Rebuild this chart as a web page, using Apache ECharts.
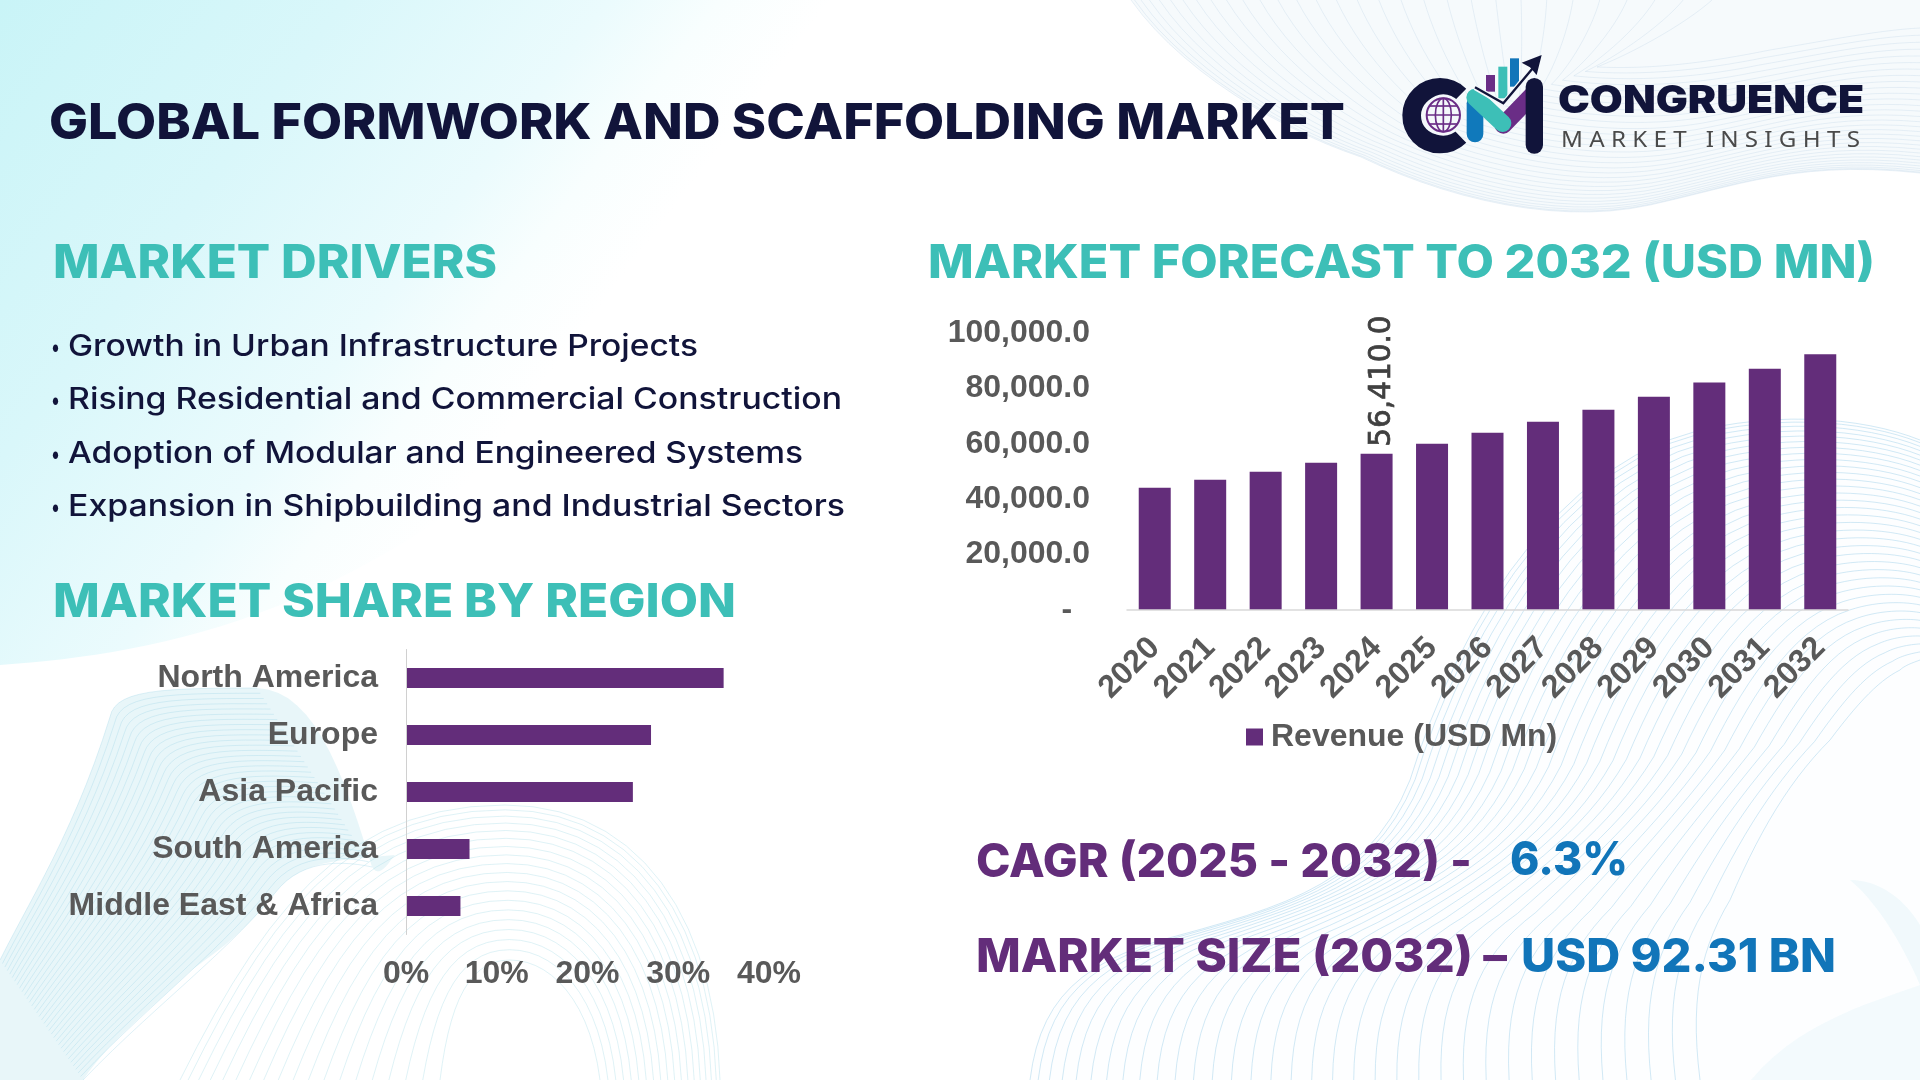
<!DOCTYPE html>
<html><head><meta charset="utf-8">
<script src="https://cdn.jsdelivr.net/npm/echarts@6/dist/echarts.min.js"></script>
<style>html,body{margin:0;padding:0;background:#fff}#c{width:1920px;height:1080px}</style>
</head><body><div id="c"></div>
<script>
const years=['2020','2021','2022','2023','2024','2025','2026','2027','2028','2029','2030','2031','2032'];
const revenue=[44100,47000,49900,53150,56410,60000,64000,68000,72300,77000,82100,87100,92310];
const labelledYear='2024';
const regions=['North America','Europe','Asia Pacific','South America','Middle East & Africa'];
const regionShare=[35,27,25,7,6];
const heading='GLOBAL FORMWORK AND SCAFFOLDING MARKET';
const driversTitle='MARKET DRIVERS';
const forecastTitle='MARKET FORECAST TO 2032 (USD MN)';
const regionTitle='MARKET SHARE BY REGION';
const bulletMark='•';
const drivers=['Growth in Urban Infrastructure Projects','Rising Residential and Commercial Construction','Adoption of Modular and Engineered Systems','Expansion in Shipbuilding and Industrial Sectors'];
const cagrLabel='CAGR (2025 - 2032) -';
const cagrValue='6.3%';
const sizeLabel='MARKET SIZE (2032) –';
const sizeValue='USD 92.31 BN';
const brand='CONGRUENCE';
const brandSub='M A R K E T   I N S I G H T S';

const NAVY='#11143a',TEAL='#3dbfb7',PURPLE='#632d7a',BLUE='#1175b9',GREY='#595959',SANS='"Liberation Sans"';
const mctx=document.createElement('canvas').getContext('2d');
function txt(text,x0,x1,y,size,weight,fill,family){
  family=family||'Inter';
  mctx.font=weight+' '+size+'px '+family;
  const k=(x1-x0)/mctx.measureText(text).width;
  return {type:'text',x:x0,y:y,scaleX:k,z:20,silent:true,style:{text:text,fontSize:size,fontWeight:weight,fontFamily:family,fill:fill,align:'left',verticalAlign:'middle'}};
}
function sampleChain(p,steps){
  const out=[[p[0][0],p[0][1]]];
  for(let j=1;j+2<p.length;j+=3){
    const a=p[j-1],b=p[j],c=p[j+1],d=p[j+2];
    for(let s=1;s<=steps;s++){const t=s/steps,u=1-t;
      out.push([u*u*u*a[0]+3*u*u*t*b[0]+3*u*t*t*c[0]+t*t*t*d[0],u*u*u*a[1]+3*u*u*t*b[1]+3*u*t*t*c[1]+t*t*t*d[1]]);}
  }
  return out;
}
function family(a,b,n,power,stroke,lw){
  const els=[];
  for(let i=0;i<=n;i++){
    const t=Math.pow(i/n,power);
    const p=a.map((q,j)=>[q[0]+(b[j][0]-q[0])*t,q[1]+(b[j][1]-q[1])*t]);
    els.push({type:'polyline',z:1,silent:true,shape:{points:sampleChain(p,14)},style:{fill:'none',stroke:stroke,lineWidth:lw||1}});
  }
  return els;
}
function area(d,fill){
  const toks=d.match(/[MLCZ]|-?[\d.]+/g);let i=0,pts=[],cur=null;
  while(i<toks.length){const c=toks[i++];
    if(c==='M'||c==='L'){cur=[+toks[i],+toks[i+1]];i+=2;pts.push(cur);}
    else if(c==='C'){
      while(i<toks.length&&!/[MLCZ]/.test(toks[i])){
        const q=[cur,[+toks[i],+toks[i+1]],[+toks[i+2],+toks[i+3]],[+toks[i+4],+toks[i+5]]];i+=6;
        pts=pts.concat(sampleChain(q,14).slice(1));cur=q[3];
      }
    }
  }
  return {type:'polygon',z:1,silent:true,shape:{points:pts},style:{fill:fill,stroke:'none'}};
}

const bg=[
 area('M0,0 L885,0 C860,110 780,190 690,300 C600,410 420,560 240,620 C150,650 70,660 0,665 Z',
  {type:'linear',x:0,y:0,x2:1,y2:1,colorStops:[{offset:0,color:'#c9f4f7'},{offset:.25,color:'#d9f7fa'},{offset:.44,color:'#ebfbfd'},{offset:.52,color:'#f8fefe'},{offset:.6,color:'#ffffff'},{offset:1,color:'#ffffff'}]}),
 area('M1131,0 C1180,70 1280,130 1361,157 C1450,200 1560,225 1650,205 C1740,185 1800,160 1920,173 L1920,0 Z','rgba(226,238,245,.30)'),
 ...family([[1131,0],[1180,70],[1280,130],[1361,157],[1450,200],[1560,225],[1650,205],[1740,185],[1800,160],[1920,173]],
        [[1712,0],[1690,20],[1640,50],[1597,67],[1660,70],[1720,60],[1770,50],[1830,40],[1880,30],[1920,28]],30,1.5,'rgba(185,210,228,.30)'),
 area('M1030,1080 C1040,1000 1080,960 1180,935 C1290,905 1370,880 1410,780 C1450,650 1540,470 1700,430 C1790,410 1870,420 1920,440 L1920,1080 Z','rgba(228,243,250,.08)'),
 ...family([[1030,1080],[1040,1000],[1080,960],[1180,935],[1290,905],[1370,880],[1410,780],[1450,650],[1540,470],[1700,430],[1790,410],[1870,420],[1920,440]],
        [[1700,1080],[1690,1000],[1700,950],[1730,900],[1760,830],[1790,780],[1830,740],[1860,700],[1880,680],[1900,670],[1905,665],[1915,662],[1920,660]],34,1.25,'rgba(165,212,235,.5)'),
 area('M1751,1080 C1800,1020 1880,1000 1920,985 L1920,1080 Z','rgba(205,236,245,.22)'),
 area('M1850,880 C1880,880 1905,900 1920,925 L1920,985 C1905,950 1880,905 1850,880 Z','rgba(195,232,243,.22)'),
 area('M0,960 C30,900 75,830 110,717 C115,690 160,688 257,688 C310,690 340,760 372,867 C380,880 390,860 395,855 C340,860 300,860 275,893 C230,950 200,960 184,977 C150,1010 110,1040 83,1080 L0,1080 Z','rgba(188,228,238,.34)'),
 ...family([[0,960],[30,900],[75,830],[110,717],[115,690],[160,688],[257,688]],
        [[83,1080],[150,1010],[230,950],[275,893],[300,860],[340,860],[372,867]],34,1,'rgba(150,210,228,.30)'),
 ...family([[180,1080],[260,920],[340,805],[505,805],[640,805],[715,920],[720,1080]],
        [[440,1080],[450,1000],[470,960],[510,960],[550,960],[590,1000],[600,1080]],18,1.2,'rgba(170,222,232,.38)')
];

function ln(pts,c,w,cap){return {type:'polyline',z:20,shape:{points:pts},style:{stroke:c,lineWidth:w,lineCap:cap||'round',lineJoin:'miter',fill:'none'}};}
const DPUR='#6a2d86';
const globe=[];
globe.push({type:'circle',z:20,shape:{cx:190,cy:225,r:62},style:{fill:'#f4f8fb',stroke:'none'}});
globe.push({type:'circle',z:20,shape:{cx:190,cy:225,r:50},style:{fill:'none',stroke:DPUR,lineWidth:6}});
globe.push({type:'ellipse',z:20,shape:{cx:190,cy:225,rx:24,ry:50},style:{fill:'none',stroke:DPUR,lineWidth:5}});
[[190,175,190,275],[140,225,240,225],[148,198,232,198],[148,252,232,252]].forEach(v=>globe.push(ln([[v[0],v[1]],[v[2],v[3]]],DPUR,5,'butt')));
const logo={type:'group',x:1380,y:40,scaleX:1/3,scaleY:1/3,z:20,silent:true,children:[
 {type:'arc',z:20,shape:{cx:180,cy:227,r:85,startAngle:.8,endAngle:Math.PI*2-.8,clockwise:true},style:{fill:'none',stroke:NAVY,lineWidth:56}},
 ...globe,
 {type:'rect',z:20,shape:{x:318,y:105,width:27,height:50},style:{fill:DPUR}},
 {type:'rect',z:20,shape:{x:355,y:80,width:27,height:95},style:{fill:TEAL}},
 {type:'rect',z:20,shape:{x:390,y:55,width:27,height:85},style:{fill:BLUE}},
 ln([[285,190],[285,282]],'#1079bb',50),
 ln([[370,255],[462,160]],DPUR,52),
 ln([[285,172],[368,250]],TEAL,52),
 ln([[463,140],[463,315]],NAVY,52),
 ln([[285,142],[370,192],[462,80]],'#f4f8fb',16,'butt'),
 ln([[285,142],[370,190],[462,80]],NAVY,7,'butt'),
 {type:'polygon',z:20,shape:{points:[[485,45],[425,68],[450,82],[470,105]]},style:{fill:NAVY}}
]};

const bulletRows=[347,400,454,507];
const bulletEnds=[698,842,803,845];
const bulletEls=[];
drivers.forEach((d,i)=>{
  bulletEls.push(txt(bulletMark,51,60,bulletRows[i]+1,24,500,NAVY));
  bulletEls.push(txt(d,68,bulletEnds[i],bulletRows[i],30,500,NAVY));
});
const texts=[
 txt(heading,49,1345,124,50,800,NAVY),
 txt(driversTitle,53,497,264,46,800,TEAL),
 txt(forecastTitle,928,1875,264,46,800,TEAL),
 txt(regionTitle,53,736,603,46,800,TEAL),
 ...bulletEls,
 txt(cagrLabel,976,1472,863,46,800,PURPLE),
 txt(cagrValue,1510,1628,861,46,800,BLUE),
 txt(sizeLabel,976,1507,958,46,800,PURPLE),
 txt(sizeValue,1521,1836,958,46,800,BLUE),
 txt(brand,1558,1864,102,38,900,NAVY),
 txt(brandSub,1561,1860,141,22,400,'#4a4a4a','"Noto Sans"'),
 logo
];

const axisLabel={color:GREY,fontFamily:SANS,fontWeight:'bold',fontSize:32};
const chart=echarts.init(document.getElementById('c'),null,{renderer:'canvas'});
chart.setOption({
 animation:false,backgroundColor:'transparent',
 graphic:{elements:bg.concat(texts)},
 legend:{data:['Revenue (USD Mn)'],left:1246,top:721,icon:'rect',itemWidth:17,itemHeight:17,itemGap:0,padding:0,z:30,
   textStyle:{color:GREY,fontFamily:SANS,fontWeight:'bold',fontSize:32,padding:[0,0,0,3]}},
 grid:[{left:1127,top:333,width:721,height:277},{left:406,top:649.5,width:363,height:285}],
 xAxis:[
  {gridIndex:0,type:'category',z:30,data:years,axisTick:{show:false},axisLine:{lineStyle:{color:'#d9d9d9',width:1.5}},
   axisLabel:Object.assign({},axisLabel,{rotate:45,interval:0,margin:33})},
  {gridIndex:1,type:'value',z:30,min:0,max:40,interval:10,splitLine:{show:false},axisLine:{show:false},axisTick:{show:false},
   axisLabel:Object.assign({},axisLabel,{margin:24,formatter:v=>v+'%'})}
 ],
 yAxis:[
  {gridIndex:0,type:'value',z:30,min:0,max:100000,interval:20000,splitLine:{show:false},axisLine:{show:false},axisTick:{show:false},
   axisLabel:Object.assign({},axisLabel,{margin:37,formatter:v=>v===0?'-\u00a0\u00a0':v.toLocaleString('en-US',{minimumFractionDigits:1})})},
  {gridIndex:1,type:'category',z:30,inverse:true,data:regions,axisTick:{show:false},axisLine:{show:true,lineStyle:{color:'#d0d0d0',width:1}},
   axisLabel:Object.assign({},axisLabel,{interval:0,margin:28})}
 ],
 series:[
  {name:'Revenue (USD Mn)',type:'bar',xAxisIndex:0,yAxisIndex:0,barWidth:32,itemStyle:{color:PURPLE},z:5,
   data:revenue.map((v,i)=>years[i]===labelledYear?{value:v,label:{show:true}}:v),
   label:{show:false,position:'top',distance:7,offset:[0,6],rotate:90,align:'left',verticalAlign:'middle',color:'#404040',fontFamily:'"DejaVu Sans"',fontSize:29.5,textBorderColor:'#404040',textBorderWidth:.7,
    formatter:p=>p.value.toLocaleString('en-US',{minimumFractionDigits:1})}},
  {name:'Market share',type:'bar',xAxisIndex:1,yAxisIndex:1,barWidth:20,itemStyle:{color:PURPLE},z:5,data:regionShare}
 ]
});
</script></body></html>
